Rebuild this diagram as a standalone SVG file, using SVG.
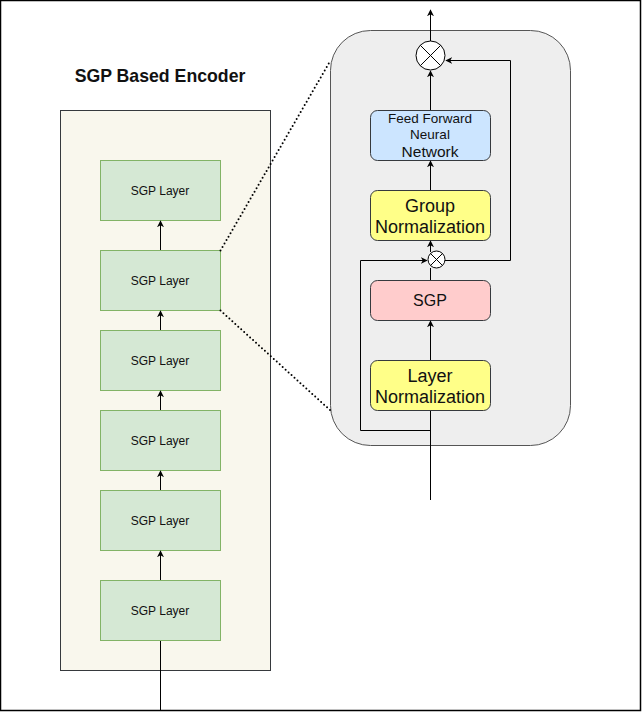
<svg xmlns="http://www.w3.org/2000/svg" width="642" height="713" viewBox="0 0 642 713">
<defs>
<marker id="ah" viewBox="0 0 10 10" refX="9" refY="5" markerWidth="7" markerHeight="7" orient="auto" markerUnits="userSpaceOnUse">
<path d="M0,0 L10,5 L0,10 L3,5 Z" fill="#000"/>
</marker>
<style>
.t{font-family:"Liberation Sans",Arial,sans-serif;fill:#111;text-anchor:middle}
.layer rect{fill:#d5e8d4;stroke:#82b366;stroke-width:1}
.layer text{font-size:12px}
.ln{stroke:#000;stroke-width:1;fill:none}
.box{stroke:#36393d;stroke-width:1}
</style>
</defs>
<rect x="0.5" y="0.5" width="640" height="710" fill="#fff" stroke="#000" stroke-width="1.5"/>
<g id="encoder">
<rect x="60.5" y="110.5" width="210" height="560" fill="#f9f7ed" stroke="#36393d"/>
<text class="t" x="160" y="82" font-size="17.7" font-weight="bold">SGP Based Encoder</text>
</g>
<g id="panel">
<rect x="330.5" y="30.5" width="240" height="415" rx="40" fill="#eeeeee" stroke="#555"/>
</g>
<g id="layer6" class="layer"><rect x="100.5" y="160.5" width="120" height="60"/><text class="t" x="160" y="195">SGP Layer</text></g>
<g id="layer5" class="layer"><rect x="100.5" y="250.5" width="120" height="60"/><text class="t" x="160" y="285">SGP Layer</text></g>
<g id="layer4" class="layer"><rect x="100.5" y="330.5" width="120" height="60"/><text class="t" x="160" y="365">SGP Layer</text></g>
<g id="layer3" class="layer"><rect x="100.5" y="410.5" width="120" height="60"/><text class="t" x="160" y="445">SGP Layer</text></g>
<g id="layer2" class="layer"><rect x="100.5" y="490.5" width="120" height="60"/><text class="t" x="160" y="525">SGP Layer</text></g>
<g id="layer1" class="layer"><rect x="100.5" y="580.5" width="120" height="60"/><text class="t" x="160" y="615">SGP Layer</text></g>
<g id="ffn">
<rect class="box" x="370.5" y="110.5" width="120" height="50" rx="7" fill="#cce5ff"/>
<text class="t" x="430" y="122.5" font-size="13.5">Feed Forward</text>
<text class="t" x="430" y="138.5" font-size="13.5">Neural</text>
<text class="t" x="430" y="157" font-size="15.5">Network</text>
</g>
<g id="groupnorm">
<rect class="box" x="370.5" y="190.5" width="120" height="50" rx="7" fill="#ffff88"/>
<text class="t" x="430" y="212" font-size="18">Group</text>
<text class="t" x="430" y="233" font-size="18">Normalization</text>
</g>
<g id="sgp">
<rect class="box" x="370.5" y="280.5" width="120" height="40" rx="7" fill="#ffcccc"/>
<text class="t" x="430" y="306" font-size="16">SGP</text>
</g>
<g id="layernorm">
<rect class="box" x="370.5" y="360.5" width="120" height="50" rx="7" fill="#ffff88"/>
<text class="t" x="430" y="382" font-size="18">Layer</text>
<text class="t" x="430" y="403" font-size="18">Normalization</text>
</g>
<g id="mult1">
<circle cx="430.5" cy="55.5" r="14.5" fill="#fff" stroke="#000"/>
<path class="ln" d="M420.3,45.3 L440.7,65.7 M440.7,45.3 L420.3,65.7"/>
</g>
<g id="mult2">
<circle cx="436.5" cy="259.5" r="8.5" fill="#fff" stroke="#000"/>
<path class="ln" d="M430.5,253.5 L442.5,265.5 M442.5,253.5 L430.5,265.5"/>
</g>
<g id="connectors">
<path class="ln" d="M160.5,250 V221" marker-end="url(#ah)"/>
<path class="ln" d="M160.5,330 V311" marker-end="url(#ah)"/>
<path class="ln" d="M160.5,410 V391" marker-end="url(#ah)"/>
<path class="ln" d="M160.5,490 V471" marker-end="url(#ah)"/>
<path class="ln" d="M160.5,580 V551" marker-end="url(#ah)"/>
<path class="ln" d="M160.5,711 V641"/>
<path d="M220.5,250.5 L330.5,60.5" stroke="#000" stroke-width="2" stroke-dasharray="0 4" stroke-linecap="round" fill="none"/>
<path d="M220.5,310.5 L330.5,410.5" stroke="#000" stroke-width="2" stroke-dasharray="0 4" stroke-linecap="round" fill="none"/>
<path class="ln" d="M430.5,41 V10" marker-end="url(#ah)"/>
<path class="ln" d="M430.5,110 V71" marker-end="url(#ah)"/>
<path class="ln" d="M430.5,190 V161" marker-end="url(#ah)"/>
<path class="ln" d="M430.5,252 V241" marker-end="url(#ah)"/>
<path class="ln" d="M430.5,280 V268"/>
<path class="ln" d="M430.5,360 V321" marker-end="url(#ah)"/>
<path class="ln" d="M430.5,500 V411"/>
<path class="ln" d="M430.5,430.5 H360.5 V260.5 H427" marker-end="url(#ah)"/>
<path class="ln" d="M445,260.5 H510.5 V60.5 H446" marker-end="url(#ah)"/>
</g>
</svg>
